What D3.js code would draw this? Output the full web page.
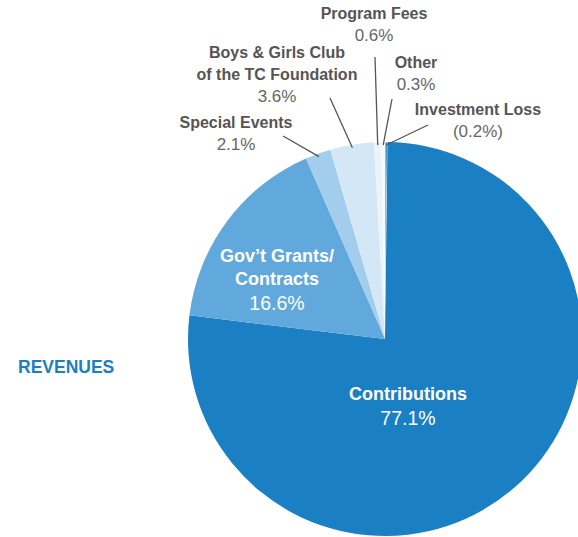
<!DOCTYPE html>
<html lang="en">
  <head>
    <meta charset="UTF-8" />
    <title>Revenues</title>
    <script src="https://cdn.jsdelivr.net/npm/d3@7"></script>
    <style>
      body { margin: 0; background: #fff; }
      text { font-family: "Liberation Sans", Arial, sans-serif; }
    </style>
  </head>
  <body>
    <script>
      // slices clockwise from 12 o'clock
      var categories = ["Investment Loss", "Contributions", "Gov't Grants/ Contracts", "Special Events", "Boys & Girls Club of the TC Foundation", "Program Fees", "Other"];
      var values = [-0.2, 77.1, 16.6, 2.1, 3.6, 0.6, 0.3];
      var colors = ["#1b7fc4", "#1b7fc4", "#61a9dd", "#a2cdec", "#d3e7f6", "#ebf4fb", "#f7fafd"];

      // label layout: name lines, anchor point, text inside or outside
      var labelLines = [
        ["Investment Loss"],
        ["Contributions"],
        ["Gov\u2019t Grants/", "Contracts"],
        ["Special Events"],
        ["Boys & Girls Club", "of the TC Foundation"],
        ["Program Fees"],
        ["Other"]
      ];
      var labelPos = [[478, 115], [408, 400], [277, 262], [236, 128], [277, 58], [374, 19], [416, 68]];
      var leaderFrom = [[428, 125], null, null, [283, 136], [330, 98], [375, 57], [392, 99]];

      var width = 578, height = 537;
      var cx = 385, cy = 339, r = 197;

      var svg = d3.select("body").append("svg")
        .attr("width", width)
        .attr("height", height);

      var pie = d3.pie()
        .sort(null)
        .value(function (d) { return Math.abs(d); });

      var arcs = pie(values);
      var arc = d3.arc().innerRadius(0).outerRadius(r);
      var edge = d3.arc().innerRadius(r - 3).outerRadius(r - 3);

      var g = svg.append("g").attr("transform", "translate(" + cx + "," + cy + ")");

      g.selectAll("path.slice")
        .data(arcs)
        .enter()
        .append("path")
        .attr("class", "slice")
        .attr("d", arc)
        .attr("fill", function (d, i) { return colors[i]; })
        .attr("stroke", function (d, i) { return i == 0 ? "#fff" : "none"; })
        .attr("stroke-width", 1);

      // leader lines
      arcs.forEach(function (d, i) {
        if (!leaderFrom[i]) return;
        var p = edge.centroid(d);
        svg.append("line")
          .attr("x1", leaderFrom[i][0])
          .attr("y1", leaderFrom[i][1])
          .attr("x2", cx + p[0])
          .attr("y2", cy + p[1])
          .attr("stroke", "#555")
          .attr("stroke-width", 1.3);
      });

      function pct(v) {
        return v < 0 ? "(" + Math.abs(v).toFixed(1) + "%)" : v.toFixed(1) + "%";
      }

      values.forEach(function (v, i) {
        var inside = leaderFrom[i] === null;
        var col = inside ? "#fff" : "#555";
        var fs = inside ? 18 : 16;
        var lh = inside ? 23 : 22;
        var t = svg.append("text")
          .attr("text-anchor", "middle")
          .attr("fill", col)
          .attr("font-size", fs);
        var lines = labelLines[i];
        lines.forEach(function (s, k) {
          t.append("tspan")
            .attr("x", labelPos[i][0])
            .attr("y", labelPos[i][1] + k * lh)
            .attr("font-weight", "bold")
            .text(s);
        });
        t.append("tspan")
          .attr("x", labelPos[i][0])
          .attr("y", labelPos[i][1] + lines.length * lh + (inside ? 2 : 0))
          .attr("fill", inside ? "#fff" : "#666")
          .attr("font-size", inside ? 19.5 : 17)
          .text(pct(v));
      });

      svg.append("text")
        .attr("x", 18)
        .attr("y", 373)
        .attr("fill", "#1b7fc4")
        .attr("font-size", 17.5)
        .attr("font-weight", "bold")
        .text("REVENUES");
    </script>
  </body>
</html>
